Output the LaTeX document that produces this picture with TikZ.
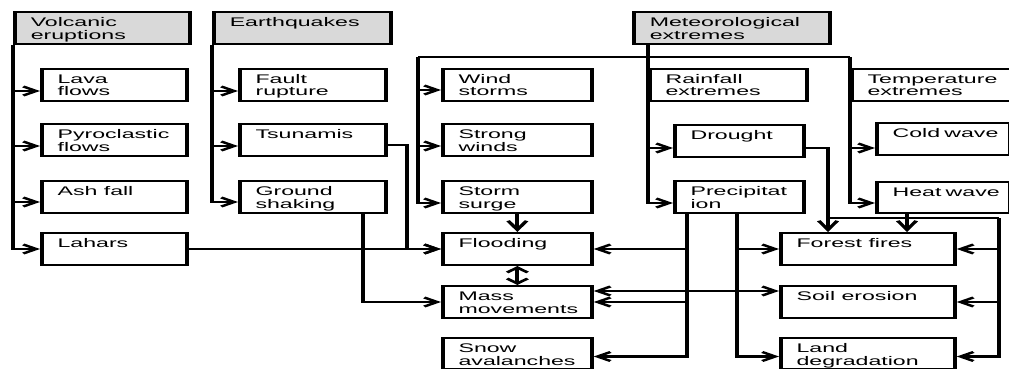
\documentclass[tikz,border=0pt]{standalone}
\usepackage{fontspec}
\setmainfont{Liberation Sans}
\usetikzlibrary{arrows.meta,calc}
\definecolor{hdrgray}{RGB}{217,217,217}

% box with top-left aligned text; corners given in stretched units
\newcommand\mkbox[7]{%
  \pgfmathsetlengthmacro\bxw{(#5-#3)/1.85*1pt}%
  \pgfmathsetlengthmacro\bxh{(#6-#4)*1pt}%
  \pgfmathsetlengthmacro\bxt{(#5-#3)/1.85*1pt-17pt}%
  \node[#1, minimum width=\bxw, minimum height=\bxh] (#2) at (#3,#4)
    {\parbox[t][\bxh][t]{\bxt}{\raggedright\lineskiplimit=-50pt\rule{0pt}{14.5pt}#7}};%
}

\tikzset{
  cell/.style={draw, line width=2pt, anchor=north west, inner xsep=8.5pt,
    inner ysep=0pt, font=\fontsize{12.5}{12.5}\selectfont},
  hdr/.style={cell, fill=hdrgray, line width=2.2pt},
  link/.style={line width=2.2pt},
  arr/.style={link, -{Straight Barb[length=7pt,width=9pt]}},
  darr/.style={link, -{Straight Barb[length=9pt,width=10pt]}},
  dbl/.style={link, {Straight Barb[length=5pt,width=11pt]}-{Straight Barb[length=5pt,width=11pt]}},
  twoway/.style={link, {Straight Barb[length=7pt,width=9pt]}-{Straight Barb[length=7pt,width=9pt]}},
}

\begin{document}
\begin{tikzpicture}
\useasboundingbox (0,0) rectangle (1009pt,-369pt);
\begin{scope}[transform canvas={xscale=1.85}, x=0.540541pt, y=-1pt]

% hazard groups
\mkbox{hdr}{volc}{13}{11}{188}{43}{Volcanic\\eruptions}
\mkbox{hdr}{quake}{212}{11}{389}{43}{Earthquakes}
\mkbox{hdr}{meteo}{632}{11}{828}{43}{Meteorological\\extremes}

% volcanic
\mkbox{cell}{lava}{40}{68}{185}{100}{Lava\\flows}
\mkbox{cell}{pyro}{40}{123}{185}{155}{Pyroclastic\\flows}
\mkbox{cell}{ash}{40}{180}{185}{212}{Ash~fall}
\mkbox{cell}{lahar}{40}{232}{185}{264}{Lahars}

% seismic
\mkbox{cell}{fault}{238}{68}{384}{100}{Fault\\rupture}
\mkbox{cell}{tsu}{238}{123}{384}{155}{Tsunamis}
\mkbox{cell}{ground}{238}{180}{384}{212}{Ground\\shaking}

% wind and secondary effects
\mkbox{cell}{wind}{441}{68}{590}{100}{Wind\\storms}
\mkbox{cell}{strong}{441}{123}{590}{155}{Strong\\winds}
\mkbox{cell}{surge}{441}{180}{590}{212}{Storm\\surge}
\mkbox{cell}{flood}{441}{232}{590}{264}{Flooding}
\mkbox{cell}{mass}{441}{285}{590}{317}{Mass\\movements}
\mkbox{cell}{snow}{441}{337}{590}{368}{Snow\\avalanches}

% rainfall
\mkbox{cell}{rain}{648}{68}{805}{100}{Rainfall\\extremes}
\mkbox{cell}{drought}{673}{124}{802}{156}{Drought}
\mkbox{cell}{precip}{673}{180}{802}{212}{Precipitat\\ion}

% temperature
\mkbox{cell}{temp}{850}{68}{1012}{100}{Temperature\\extremes}
\mkbox{cell}{cold}{875}{122}{1008}{154}{Cold~wave}
\mkbox{cell}{heat}{875}{181}{1008}{212}{Heat~wave}

% land effects
\mkbox{cell}{ff}{779}{232}{953}{264}{Forest~fires}
\mkbox{cell}{soil}{779}{285}{953}{317}{Soil~erosion}
\mkbox{cell}{land}{779}{337}{953}{368}{Land\\degradation}

% entry points
\coordinate (lavaIn) at ($(lava.west)+(0,6)$);
\coordinate (pyroIn) at ($(pyro.west)+(0,6)$);
\coordinate (ashIn) at ($(ash.west)+(0,5)$);
\coordinate (faultIn) at ($(fault.west)+(0,6)$);
\coordinate (tsuIn) at ($(tsu.west)+(0,6)$);
\coordinate (groundIn) at ($(ground.west)+(0,5)$);
\coordinate (windIn) at ($(wind.west)+(0,5)$);
\coordinate (strongIn) at ($(strong.west)+(0,6)$);
\coordinate (surgeIn) at ($(surge.west)+(0,6)$);
\coordinate (droughtIn) at ($(drought.west)+(0,7)$);
\coordinate (precipIn) at ($(precip.west)+(0,6)$);
\coordinate (coldIn) at ($(cold.west)+(0,9)$);
\coordinate (heatIn) at ($(heat.west)+(0,5.5)$);
\coordinate (snowIn) at ($(snow.east)+(0,3)$);
\coordinate (landIn) at ($(land.west)+(0,3)$);
\coordinate (landInR) at ($(land.east)+(0,3)$);

% volcanic and seismic trunks
\foreach \t in {lavaIn,pyroIn,ashIn,lahar.west}
  \draw[arr] (volc.south west) |- (\t);
\foreach \t in {faultIn,tsuIn,groundIn}
  \draw[arr] (quake.south west) |- (\t);

% meteorological trunk and bus
\coordinate (mt) at ($(meteo.south west)+(16,0)$);
\coordinate (bus) at ($(mt)+(0,12)$);
\coordinate (wl) at ($(bus -| wind.west)+(-23,0)$);
\coordinate (tr) at (bus -| temp.west);
\draw[link] (wl) -- (tr);
\foreach \t in {windIn,strongIn,surgeIn}
  \draw[arr] (wl) |- (\t);
\draw[arr] (mt) |- (droughtIn);
\draw[arr] (mt) |- (precipIn);
\draw[arr] (tr) |- (coldIn);
\draw[arr] (tr) |- (heatIn);

% into flooding and mass movements
\coordinate (tsuOut) at ($(tsu.east)+(0,5)$);
\draw[arr] (tsuOut) -- ++(19,0) |- (flood.west);
\draw[arr] (lahar.east) -- (flood.west);
\coordinate (gOut) at ($(ground.south east)+(-25,0)$);
\draw[arr] (gOut) |- (mass.west);
\draw[darr] (surge.south) -- (flood.north);
\draw[dbl] (flood.south) -- (mass.north);

% precipitation drops
\coordinate (pl) at ($(precip.south west)+(14,0)$);
\coordinate (pr) at ($(precip.south west)+(64,0)$);
\draw[arr] (pl) |- (flood.east);
\draw[arr] (pl) |- (mass.east);
\draw[arr] (pl) |- (snowIn);
\draw[arr] (pr) |- (ff.west);
\draw[arr] (pr) |- (landIn);
\coordinate (mUp) at ($(mass.north east)+(0,6)$);
\coordinate (sUp) at ($(soil.north west)+(0,6)$);
\draw[twoway] (mUp) -- (sUp);

% drought, heat wave and the right-hand bus
\coordinate (dOut) at ($(drought.east)+(0,7)$);
\coordinate (dIn) at ($(ff.north west)+(49,0)$);
\draw[darr] (dOut) -| (dIn);
\coordinate (rb) at ($(dIn)+(0,-14)$);
\coordinate (rc) at ($(rb -| ff.east)+(42,0)$);
\draw[link] (rb) -- (rc);
\draw[arr] (rc) |- (ff.east);
\draw[arr] (rc) |- (soil.east);
\draw[arr] (rc) |- (landInR);
\coordinate (hOut) at ($(heat.south west)+(32,0)$);
\draw[darr] (hOut) -- (hOut |- ff.north);

\end{scope}
\end{tikzpicture}
\end{document}
